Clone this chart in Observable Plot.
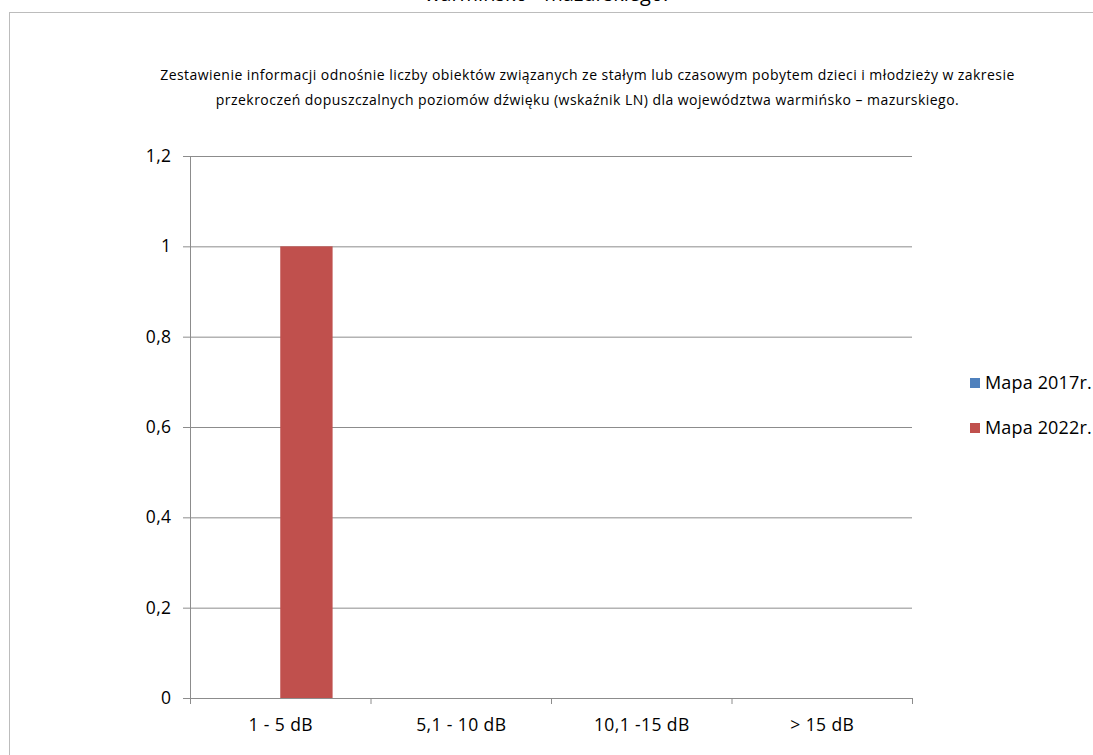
<!DOCTYPE html>
<html><head><meta charset="utf-8">
<script src="https://cdn.jsdelivr.net/npm/d3@7"></script>
<script src="https://cdn.jsdelivr.net/npm/@observablehq/plot@0.6"></script>
<style>
html,body{margin:0;padding:0;background:#fff;}
#wrap{position:relative;width:1093px;height:755px;overflow:hidden;font-family:"Open Sans",sans-serif;color:#000;}
#cut{position:absolute;left:0;width:1093px;text-align:center;top:-20px;font-size:20px;line-height:28px;}
#box{position:absolute;left:9px;top:12px;width:1300px;height:900px;border:1.5px solid #bcbcbc;}
#title{position:absolute;left:0;width:1175px;top:62px;text-align:center;font-size:14px;letter-spacing:0.45px;line-height:25px;}
#chart{position:absolute;left:0;top:0;}
.leg{position:absolute;left:970px;font-size:18px;letter-spacing:0.15px;white-space:nowrap;}
.leg span{display:inline-block;width:10px;height:10px;margin-right:5px;vertical-align:1px;}
</style></head>
<body><div id="wrap">
<div id="cut">warmińsko - mazurskiego.</div>
<div id="box"></div>
<div id="title">Zestawienie informacji odnośnie liczby obiektów związanych ze stałym lub czasowym pobytem dzieci i młodzieży w zakresie<br>przekroczeń dopuszczalnych poziomów dźwięku (wskaźnik LN) dla województwa warmińsko – mazurskiego.</div>
<div id="chart"></div>
<div id="legend"></div>
</div>
<script>
const categories = ["1 - 5 dB", "5,1 - 10 dB", "10,1 -15 dB", "> 15 dB"];
const seriesNames = ["Mapa 2017r.", "Mapa 2022r."];
const values2017 = [0, 0, 0, 0];
const values2022 = [1, 0, 0, 0];
const colors = ["#4F81BD", "#C0504D"];
const yTicks = [0, 0.2, 0.4, 0.6, 0.8, 1, 1.2];

const rows = [];
[values2017, values2022].forEach((vals, si) => {
  vals.forEach((v, ci) => rows.push({ci, si, series: seriesNames[si], value: v}));
});
const gap = 0.21, bw = 0.29;

const chart = Plot.plot({
  width: 1093, height: 755,
  marginLeft: 190, marginRight: 181, marginTop: 156, marginBottom: 57,
  style: {fontFamily: "Open Sans, sans-serif", fontSize: "17.5px", background: "transparent", overflow: "visible", letterSpacing: "0.4px"},
  x: {type: "linear", domain: [0, categories.length], label: null},
  y: {domain: [0, 1.2], label: null},
  color: {domain: seriesNames, range: colors},
  marks: [
    Plot.ruleY(yTicks, {stroke: "#8c8c8c", strokeWidth: 1}),
    Plot.frame({anchor: "left", stroke: "#8c8c8c"}),
    Plot.axisY({ticks: yTicks, tickSize: 7, tickPadding: 12, stroke: "#8c8c8c", label: null, tickFormat: d => String(d).replace(".", ",")}),
    Plot.axisX({ticks: d3.range(categories.length + 1), tickSize: 6, stroke: "#8c8c8c", label: null, tickFormat: () => ""}),
    Plot.axisX({ticks: categories.map((c, i) => i + 0.5), tickSize: 0, tickPadding: 20, label: null, tickFormat: t => categories[Math.floor(t)]}),
    Plot.rectY(rows.filter(d => d.value > 0), {x1: d => d.ci + gap + d.si * bw, x2: d => d.ci + gap + (d.si + 1) * bw, y1: 0, y2: "value", fill: "series"})
  ]
});
chart.querySelectorAll("[aria-label='x-axis tick label'] text, [aria-label='y-axis tick label'] text").forEach(t => t.setAttribute("fill", "#000"));
document.getElementById("chart").appendChild(chart);

const legend = document.getElementById("legend");
seriesNames.forEach((s, i) => {
  const d = document.createElement("div");
  d.className = "leg";
  d.style.top = (370 + i * 45) + "px";
  d.innerHTML = `<span style="background:${colors[i]}"></span>${s}`;
  legend.appendChild(d);
});
</script>
</body></html>
